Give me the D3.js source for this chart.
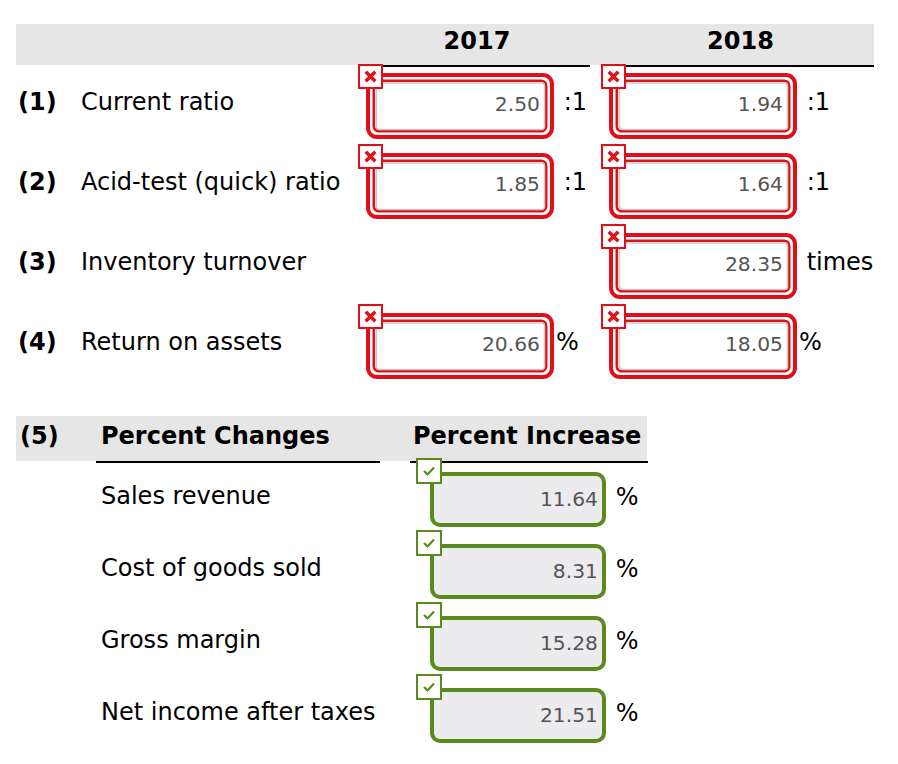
<!DOCTYPE html>
<html><head><meta charset="utf-8">
<script src="https://cdn.jsdelivr.net/npm/d3@7/dist/d3.min.js"></script>
<style>body{margin:0;background:#fff}svg{display:block}text{font-family:"DejaVu Sans",Verdana,sans-serif}</style>
</head><body>
<script>
// ---- data ----
const years = ["2017", "2018"];
const ratioNums = ["(1)", "(2)", "(3)", "(4)"];
const ratioLabels = ["Current ratio", "Acid-test (quick) ratio", "Inventory turnover", "Return on assets"];
const values2017 = [2.50, 1.85, null, 20.66];
const values2018 = [1.94, 1.64, 28.35, 18.05];
const ratioUnits = [" :1", " :1", " times", "%"];
const changeTitle = ["(5)", "Percent Changes", "Percent Increase"];
const changeLabels = ["Sales revenue", "Cost of goods sold", "Gross margin", "Net income after taxes"];
const changeValues = [11.64, 8.31, 15.28, 21.51];
const changeUnit = " %";

const W = 898, H = 764;
const RED = "#e0101a", GREEN = "#5a8a1c";
const FS = 24, VFS = 20.3;
const fmt = d3.format(".2f");
const svg = d3.select("body").append("svg").attr("width", W).attr("height", H);

const xCol = d3.scaleOrdinal().domain(years).range([366, 609]);
const colW = 188;
const yRow = d3.scaleBand().domain(d3.range(ratioLabels.length)).range([62, 382]);
const yChg = d3.scaleBand().domain(d3.range(changeLabels.length)).range([460, 748]);

// header
svg.append("rect").attr("x", 16).attr("y", 24).attr("width", 858).attr("height", 41).attr("fill", "#e6e6e6");
const colLines = [[358, 590], [601, 874]];
years.forEach((yr, i) => {
  svg.append("line").attr("x1", colLines[i][0]).attr("x2", colLines[i][1]).attr("y1", 66).attr("y2", 66)
    .attr("stroke", "#000").attr("stroke-width", 2);
  svg.append("text").attr("x", (colLines[i][0] + colLines[i][1]) / 2 + 3).attr("y", 49)
    .attr("text-anchor", "middle").attr("font-weight", "bold").attr("font-size", FS).text(yr);
});

// ratio rows
const rows = svg.selectAll("g.row").data(ratioLabels).join("g").attr("class", "row")
  .attr("transform", (d, i) => `translate(0,${yRow(i) + yRow.bandwidth() / 2})`);
rows.append("text").attr("x", 18).attr("y", 8).attr("font-size", FS).attr("font-weight", "bold")
  .text((d, i) => ratioNums[i]);
rows.append("text").attr("x", 81).attr("y", 8).attr("font-size", FS).text(d => d);

function redBox(g, L, v, unit) {
  const T = -29, B = 37, R = L + colW;
  g.append("rect").attr("x", L + 2).attr("y", T + 2).attr("width", R - L - 4).attr("height", B - T - 4)
    .attr("rx", 9).attr("fill", "#fff").attr("stroke", RED).attr("stroke-width", 4);
  g.append("rect").attr("x", L + 7.8).attr("y", T + 7.8).attr("width", R - L - 15.6).attr("height", B - T - 15.6)
    .attr("rx", 5).attr("fill", "none").attr("stroke", RED).attr("stroke-width", 2.6);
  g.append("rect").attr("x", L + 10.5).attr("y", T + 10).attr("width", R - L - 20).attr("height", B - T - 19.5)
    .attr("rx", 3).attr("fill", "#fff").attr("stroke", "#cacaca").attr("stroke-width", 1.5);
  g.append("text").attr("x", R - 14).attr("y", 9).attr("text-anchor", "end").attr("font-size", VFS)
    .attr("fill", "#555").text(fmt(v));
  g.append("text").attr("x", R + 2).attr("y", 8).attr("font-size", FS).attr("xml:space", "preserve")
    .style("white-space", "pre").text(unit);
  // x badge
  const sx = L - 7, sy = T - 8, s = 23;
  g.append("rect").attr("x", sx).attr("y", sy).attr("width", s).attr("height", s)
    .attr("fill", "#fff").attr("stroke", RED).attr("stroke-width", 2);
  const c = [sx + s / 2, sy + s / 2], r = 4.8;
  g.append("path").attr("d", `M${c[0]-r},${c[1]-r}L${c[0]+r},${c[1]+r}M${c[0]+r},${c[1]-r}L${c[0]-r},${c[1]+r}`)
    .attr("stroke", RED).attr("stroke-width", 3.4).attr("stroke-linecap", "butt");
}
rows.each(function (d, i) {
  const g = d3.select(this);
  [values2017[i], values2018[i]].forEach((v, k) => {
    if (v !== null) redBox(g, xCol(years[k]), v, ratioUnits[i]);
  });
});

// section 5 header
svg.append("rect").attr("x", 16).attr("y", 416).attr("width", 631).attr("height", 45).attr("fill", "#e6e6e6");
svg.append("line").attr("x1", 96).attr("x2", 380).attr("y1", 462).attr("y2", 462).attr("stroke", "#000").attr("stroke-width", 2);
svg.append("line").attr("x1", 410).attr("x2", 648).attr("y1", 462).attr("y2", 462).attr("stroke", "#000").attr("stroke-width", 2);
[20, 101, 413].forEach((x, i) => {
  svg.append("text").attr("x", x).attr("y", 444).attr("font-size", FS).attr("font-weight", "bold").text(changeTitle[i]);
});

const crow = svg.selectAll("g.crow").data(changeLabels).join("g").attr("class", "crow")
  .attr("transform", (d, i) => `translate(0,${yChg(i) + yChg.bandwidth() / 2})`);
crow.append("text").attr("x", 101).attr("y", 8).attr("font-size", FS).text(d => d);
crow.each(function (d, i) {
  const g = d3.select(this);
  const L = 430, R = 606, T = -24, B = 31;
  g.append("rect").attr("x", L + 2).attr("y", T + 2).attr("width", R - L - 4).attr("height", B - T - 4)
    .attr("rx", 8).attr("fill", "#ececef").attr("stroke", GREEN).attr("stroke-width", 4);
  g.append("text").attr("x", R - 8).attr("y", 10).attr("text-anchor", "end").attr("font-size", VFS)
    .attr("fill", "#555").text(fmt(changeValues[i]));
  g.append("text").attr("x", R + 2).attr("y", 9).attr("font-size", FS).attr("xml:space", "preserve")
    .style("white-space", "pre").text(changeUnit);
  const sx = L - 13, sy = T - 13, s = 24;
  g.append("rect").attr("x", sx).attr("y", sy).attr("width", s).attr("height", s)
    .attr("fill", "#fff").attr("stroke", GREEN).attr("stroke-width", 2);
  g.append("path").attr("d", `M${sx+7},${sy+12}L${sx+10.5},${sy+15.5}L${sx+17},${sy+8.5}`)
    .attr("fill", "none").attr("stroke", GREEN).attr("stroke-width", 2.2);
});
</script>
</body></html>
